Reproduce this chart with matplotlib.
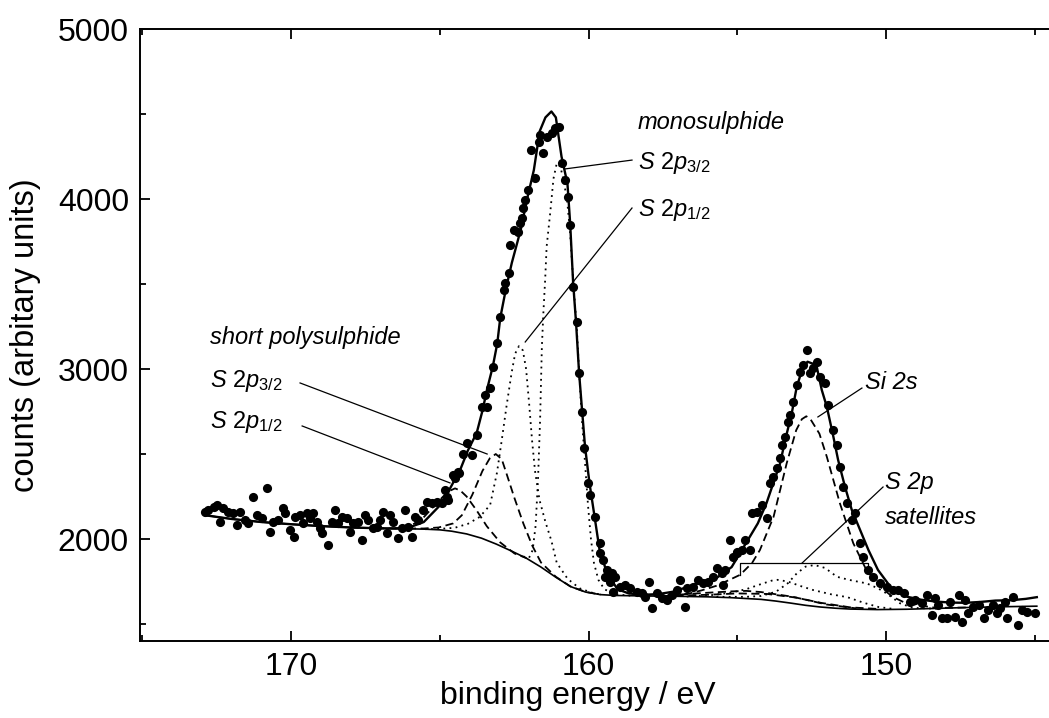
import matplotlib
matplotlib.use("Agg")
import matplotlib.pyplot as plt

plt.rcParams['font.family'] = ['Liberation Sans', 'DejaVu Sans']
plt.rcParams['mathtext.fontset'] = 'custom'
plt.rcParams['mathtext.it'] = 'Liberation Sans:italic'
plt.rcParams['mathtext.rm'] = 'Liberation Sans'

# measured spectrum (binding energy / eV, counts)
energy = [
    172.89, 172.78, 172.61, 172.50, 172.39, 172.28, 172.11, 171.94, 171.83, 171.72,
    171.55, 171.44, 171.27, 171.16, 170.99, 170.82, 170.71, 170.60, 170.43, 170.26,
    170.20, 170.04, 169.92, 169.87, 169.70, 169.59, 169.48, 169.36, 169.25, 169.14,
    169.03, 168.97, 168.75, 168.64, 168.52, 168.41, 168.30, 168.13, 168.02, 167.91,
    167.74, 167.63, 167.52, 167.40, 167.24, 167.12, 167.01, 166.90, 166.79, 166.68,
    166.56, 166.40, 166.28, 166.17, 166.06, 165.95, 165.84, 165.72, 165.56, 165.44,
    165.27, 165.11, 164.94, 164.83, 164.71, 164.55, 164.38,
    164.77, 164.49, 164.37, 164.21, 164.09, 163.93, 163.76, 163.59, 163.48, 163.42,
    163.31, 163.20, 163.09, 162.97, 162.86, 162.81, 162.69, 162.64, 162.52, 162.36,
    162.30, 162.25, 162.19, 162.13, 162.02, 161.94, 161.80, 161.68, 161.63, 161.52,
    161.40, 161.24, 161.12, 161.01,
    160.90, 160.79, 160.68, 160.62, 160.51, 160.40, 160.31, 160.23, 160.17, 160.01,
    159.95, 159.78, 159.61, 159.50, 159.39, 159.22, 159.11,
    159.61, 159.45, 159.28, 159.17, 158.94, 158.77, 158.61, 158.38, 158.21, 158.10,
    157.96, 157.88, 157.71, 157.54, 157.37, 157.20, 157.04, 156.92, 156.76, 156.70,
    156.48, 156.31, 156.14, 155.97, 155.80, 155.69, 155.52, 155.41, 155.47, 155.13,
    155.02,
    155.24, 155.02, 154.85, 154.74, 154.57, 154.52, 154.35, 154.18, 154.01, 153.90,
    153.79, 153.68, 153.56, 153.51, 153.40, 153.28, 153.23, 153.12, 153.00, 152.89,
    152.78, 152.64, 152.55, 152.44, 152.33, 152.22, 152.05, 151.94, 151.77, 151.66,
    151.55, 151.43, 151.32, 151.15, 151.04, 150.87, 150.76, 150.59, 150.43, 150.20,
    149.98, 149.75,
    149.58, 149.41, 149.19, 149.02, 148.80, 148.63, 148.46, 148.35, 148.24, 148.12,
    147.96, 147.84, 147.68, 147.56, 147.45, 147.34, 147.23, 147.06, 146.89, 146.72,
    146.56, 146.39, 146.28, 146.16, 146.00, 145.94, 145.72, 145.55, 145.44, 145.27,
    144.99,
]
counts = [
    2161, 2171, 2190, 2200, 2102, 2180, 2161, 2151, 2082, 2161,
    2112, 2092, 2249, 2141, 2122, 2298, 2043, 2102, 2112, 2180,
    2151, 2053, 2014, 2131, 2141, 2092, 2151, 2122, 2151, 2102,
    2063, 2033, 1965, 2102, 2171, 2092, 2131, 2122, 2043, 2092,
    2102, 1994, 2141, 2112, 2063, 2073, 2112, 2161, 2033, 2141,
    2102, 2004, 2063, 2171, 2073, 2014, 2131, 2112, 2171, 2220,
    2210, 2220, 2210, 2288, 2230, 2377, 2396,
    2249, 2357, 2386, 2503, 2562, 2494, 2611, 2778, 2847, 2778,
    2886, 3013, 3151, 3308, 3465, 3504, 3562, 3729, 3817, 3808,
    3857, 3886, 3945, 3994, 4053, 4288, 4121, 4337, 4376, 4268,
    4366, 4386, 4416, 4425,
    4210, 4112, 4013, 3847, 3484, 3278, 2974, 2749, 2533, 2327,
    2258, 2131, 1974, 1876, 1817, 1798, 1778,
    1915, 1778, 1749, 1690, 1719, 1729, 1709, 1690, 1680, 1660,
    1749, 1592, 1680, 1651, 1641, 1670, 1700, 1759, 1602, 1709,
    1719, 1759, 1739, 1749, 1778, 1827, 1798, 1817, 1729, 1896,
    1915,
    1994, 1925, 1935, 1994, 1935, 2151, 2161, 2200, 2122, 2327,
    2367, 2416, 2475, 2553, 2602, 2690, 2730, 2808, 2906, 2984,
    3024, 3112, 2974, 3004, 3043, 2955, 2915, 2788, 2641, 2553,
    2425, 2308, 2210, 2112, 2151, 1974, 1896, 1817, 1778, 1739,
    1719, 1700,
    1700, 1681, 1632, 1642, 1622, 1671, 1553, 1651, 1612, 1534,
    1534, 1632, 1544, 1671, 1514, 1642, 1563, 1602, 1612, 1534,
    1583, 1612, 1563, 1593, 1632, 1534, 1661, 1495, 1583, 1573,
    1563,
]

# Shirley background
bg_e = [172.9, 172.0, 171.0, 170.0, 169.0, 168.0, 167.0, 166.0, 165.5, 165.0,
        164.6, 164.1, 163.6, 163.1, 162.6, 162.1, 161.6, 161.1, 160.6, 160.1,
        159.6, 159.1, 158.0, 157.0, 156.0, 155.2, 154.2, 153.7, 153.2, 152.7,
        152.2, 151.7, 151.2, 150.3, 149.3, 148.3, 147.3, 146.3, 144.93]
bg_c = [2140, 2118, 2100, 2087, 2076, 2068, 2063, 2060, 2058, 2054,
        2046, 2030, 2005, 1970, 1930, 1888, 1835, 1775, 1720, 1688,
        1673, 1668, 1665, 1663, 1660, 1655, 1645, 1635, 1623, 1610,
        1600, 1593, 1588, 1585, 1587, 1592, 1597, 1601, 1605]

# total envelope of the fit
fit_e = [172.9, 172.0, 171.0, 170.0, 169.0, 168.0, 167.0, 166.5, 166.03, 165.54,
         165.04, 164.65, 164.31, 164.06, 163.76, 163.56, 163.42, 163.22, 163.07, 162.97,
         162.78, 162.58, 162.28, 162.08, 161.84, 161.64, 161.45, 161.25, 161.10, 160.91,
         160.71, 160.62, 160.52, 160.42, 160.32, 160.22, 160.12, 159.97, 159.78, 159.63,
         159.38, 159.03, 158.65, 158.15, 157.66, 157.16, 156.68, 156.18, 155.69, 155.19,
         154.71, 154.31, 154.02, 153.79, 153.56, 153.39, 153.17, 153.00, 152.83, 152.64,
         152.44, 152.33, 152.16, 151.99, 151.77, 151.61, 151.38, 151.15, 150.87, 150.59,
         150.27, 149.77, 149.28, 148.79, 148.30, 147.81, 147.31, 146.82, 146.32, 145.80,
         145.30, 144.93]
fit_c = [2140, 2118, 2100, 2087, 2076, 2068, 2063, 2062, 2068, 2100,
         2190, 2300, 2410, 2520, 2625, 2760, 2875, 3015, 3150, 3300,
         3470, 3625, 3820, 3990, 4170, 4400, 4480, 4515, 4480, 4250,
         4090, 3860, 3510, 3270, 2980, 2760, 2545, 2330, 2110, 1935,
         1800, 1705, 1680, 1672, 1676, 1690, 1718, 1750, 1772, 1835,
         1975, 2092, 2210, 2328, 2445, 2582, 2739, 2896, 2990, 3043,
         3030, 3014, 2877, 2778, 2602, 2465, 2308, 2171, 2053, 1935,
         1818, 1700, 1660, 1642, 1632, 1626, 1625, 1630, 1638, 1640,
         1648, 1658]

# monosulphide doublet (dotted)
mono32_e = [162.2, 162.0, 161.88, 161.78, 161.70, 161.63, 161.57, 161.52, 161.46, 161.41,
            161.29, 161.18, 161.07, 160.95, 160.85, 160.72, 160.62, 160.51, 160.40, 160.31,
            160.23, 160.12, 160.02, 159.92, 159.82, 159.67, 159.47, 159.13, 158.6]
mono32_c = [1897, 1890, 1935, 2080, 2350, 2700, 3131, 3329, 3524, 3720,
            3918, 4120, 4210, 4190, 4120, 3990, 3800, 3500, 3250, 2960,
            2720, 2450, 2200, 2000, 1860, 1760, 1705, 1675, 1667]
mono12_e = [165.5, 165.0, 164.5, 164.05, 163.66, 163.31, 163.08, 162.92, 162.76, 162.59,
            162.47, 162.34, 162.21, 162.10, 162.00, 161.90, 161.80, 161.65, 161.45, 161.25,
            161.07, 160.70, 160.30, 159.90, 159.6]
mono12_c = [2058, 2060, 2066, 2090, 2130, 2200, 2390, 2580, 2780, 2975,
            3090, 3135, 3110, 3000, 2800, 2580, 2400, 2230, 2100, 1990,
            1860, 1765, 1710, 1685, 1673]

# short polysulphide doublet (dashed)
poly32_e = [166.5, 165.54, 165.04, 164.55, 164.26, 163.91, 163.57, 163.32, 163.12, 162.92,
            162.75, 162.49, 162.19, 161.89, 161.6, 161.1, 160.62, 160.12, 159.6]
poly32_c = [2062, 2062, 2068, 2092, 2140, 2260, 2400, 2475, 2500, 2470,
            2380, 2240, 2090, 1960, 1862, 1778, 1722, 1690, 1673]
poly12_e = [168.0, 167.0, 166.53, 166.04, 165.64, 165.24, 164.89, 164.65, 164.49, 164.31,
            164.10, 163.77, 163.42, 162.97, 162.49, 162.09]
poly12_c = [2068, 2063, 2062, 2075, 2110, 2185, 2250, 2285, 2298, 2285,
            2250, 2170, 2075, 1980, 1915, 1888]

# Si 2s (dashed)
si_e = [157.2, 156.6, 156.2, 155.7, 155.2, 154.9, 154.5, 154.24, 153.78, 153.34,
        153.02, 152.83, 152.68, 152.54, 152.24, 151.99, 151.55, 151.1, 150.66, 150.2,
        149.78, 149.3, 148.3, 147.3]
si_c = [1666, 1680, 1698, 1725, 1765, 1790, 1860, 1935, 2131, 2445,
        2640, 2705, 2722, 2705, 2620, 2484, 2210, 1975, 1818, 1720,
        1660, 1620, 1595, 1597]

# S 2p satellites (dotted and dashed)
sat1_e = [156.7, 155.8, 155.2, 154.7, 154.2, 153.85, 153.65, 153.3, 152.9, 152.45,
          151.85, 151.3, 150.75, 150.25, 149.8]
sat1_c = [1662, 1671, 1685, 1705, 1735, 1755, 1760, 1750, 1725, 1700,
          1675, 1658, 1625, 1600, 1590]
sat2_e = [155.7, 154.7, 154.2, 153.7, 153.3, 153.0, 152.7, 152.4, 152.05, 151.65,
          151.25, 150.65, 150.27, 149.98, 149.53, 149.1, 148.3]
sat2_c = [1660, 1660, 1665, 1690, 1740, 1798, 1838, 1847, 1830, 1778,
          1760, 1739, 1710, 1680, 1622, 1595, 1590]
sat3_e = [158.2, 157.2, 156.2, 155.2, 154.7, 154.2, 153.2, 152.2, 151.2, 150.2]
sat3_c = [1666, 1670, 1682, 1692, 1695, 1688, 1662, 1625, 1598, 1588]
sat4_e = [157.5, 156.0, 155.0, 154.0, 153.0, 152.0, 151.0]
sat4_c = [1665, 1672, 1680, 1677, 1655, 1615, 1592]

fig = plt.figure(figsize=(10.49, 7.18), dpi=100)
ax = fig.add_axes([0.1335, 0.1072, 0.8665, 0.8524])

dot = (0, (1, 2.4))
dash = (0, (4.5, 2.5))
ax.plot(bg_e, bg_c, color='black', lw=1.2)
for e, c in [(mono32_e, mono32_c), (mono12_e, mono12_c), (sat1_e, sat1_c), (sat2_e, sat2_c)]:
    ax.plot(e, c, color='black', lw=1.3, linestyle=dot)
for e, c in [(poly32_e, poly32_c), (poly12_e, poly12_c), (si_e, si_c), (sat3_e, sat3_c), (sat4_e, sat4_c)]:
    ax.plot(e, c, color='black', lw=1.3, linestyle=dash)
ax.plot(fit_e, fit_c, color='black', lw=1.7)
ax.plot(energy, counts, 'o', color='black', markersize=6.6, markeredgewidth=0)

# labels and leader lines
lab = dict(fontsize=17, style='italic', ha='left', va='center')
ax.text(158.34, 4453, 'monosulphide', **lab)
ax.text(158.34, 4212, r'$\mathit{S\ 2p_{3/2}}$', **lab)
ax.plot([158.54, 160.79], [4229, 4177], color='black', lw=0.9)
ax.text(158.34, 3935, r'$\mathit{S\ 2p_{1/2}}$', **lab)
ax.plot([158.54, 162.13], [3947, 3159], color='black', lw=0.9)

ax.text(172.72, 3188, 'short polysulphide', **lab)
ax.text(172.72, 2930, r'$\mathit{S\ 2p_{3/2}}$', **lab)
ax.plot([169.70, 163.41], [2918, 2500], color='black', lw=0.9)
ax.text(172.72, 2688, r'$\mathit{S\ 2p_{1/2}}$', **lab)
ax.plot([169.63, 164.66], [2665, 2330], color='black', lw=0.9)

ax.text(150.71, 2918, 'Si 2s', **lab)
ax.plot([150.81, 152.29], [2888, 2718], color='black', lw=0.9)
ax.text(150.03, 2330, 'S 2p', **lab)
ax.text(150.03, 2124, 'satellites', **lab)
ax.plot([150.10, 152.82], [2306, 1859], color='black', lw=0.9)
ax.plot([154.91, 154.91, 150.61, 150.61], [1790, 1859, 1859, 1805], color='black', lw=0.9)

ax.set_xlim(175.08, 144.52)
ax.set_ylim(1400, 5000)
ax.set_xticks([170, 160, 150])
ax.set_xticks([175, 165, 155, 145], minor=True)
ax.set_yticks([2000, 3000, 4000, 5000])
ax.set_yticks([1500, 2500, 3500, 4500], minor=True)
ax.tick_params(which='both', direction='in', top=True, right=False, width=1.3, labelsize=23)
ax.tick_params(which='major', length=7, pad=8)
ax.tick_params(which='minor', length=4)
ax.spines['right'].set_visible(False)
for s in ['left', 'bottom', 'top']:
    ax.spines[s].set_linewidth(1.4)

ax.set_xlabel('binding energy / eV', fontsize=23)
ax.set_ylabel('counts (arbitary units)', fontsize=23.5)
ax.xaxis.set_label_coords(0.482, -0.066)
ax.yaxis.set_label_coords(-0.109, 0.5)

fig.savefig('out.png', dpi=100)
